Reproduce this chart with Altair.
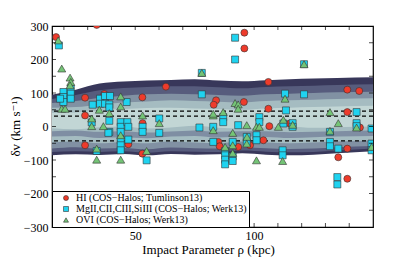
import altair as alt
import pandas as pd

FONT = "Liberation Serif, DejaVu Serif, serif"

# ---- data ----
hi_x = [16.7, 33.8, 28.9, 37.0, 28.9, 28.9, 47.1, 53.0, 62.9, 84.0, 83.0, 53.1, 53.0,
        95.9, 95.9, 106.0, 95.7, 106.0, 106.4, 115.0, 103.9, 85.0, 85.5, 93.3, 98.3,
        139.2, 144.2, 139.2, 144.5, 139.2, 135.4, 139.2]
hi_v = [267, 303, 86, 97, 33, -56, -53, 87, 119, 78, 65, 10, -81,
        280, 233, 133, 73, 53, 1, 9, -41, -46, -59, -61, -56,
        110, 106, 43, -3, -66, -92, -156]

metal_x = [17.9, 19.8, 19.8, 19.8, 18.4, 22.9, 22.9, 22.9,
           35.2, 37.3, 39.4, 35.2, 32.1, 37.3, 39.1, 39.1,
           31.7, 39.1, 39.1, 43.9, 43.9, 43.9, 46.7, 47.1, 47.1, 43.9, 43.9, 43.9,
           33.8, 38.7, 46.4,
           60.1, 53.1, 53.1, 60.1, 77.0, 78.0, 78.0, 82.8, 54.8,
           92.0, 92.0, 87.0, 87.0, 82.8, 93.3, 102.2, 102.2, 101.0, 101.0, 96.9, 96.9, 91.0,
           87.8, 87.8, 87.8, 87.8, 91.0, 91.0,
           113.0, 113.4, 112.3, 112.0, 112.0, 121.0, 121.0,
           116.2, 116.2, 131.9, 131.9, 131.9, 135.4, 143.1, 143.1, 143.1,
           149.4, 149.4, 149.4, 135.0, 135.0]
metal_v = [242, 103, 88, 73, 83, 113, 98, 83,
           83, 91, 91, 68, 65, 68, 66, 57,
           12, 17, -16, 13, -1, -16, 13, -1, -39, -41, -56, -71,
           -73, -19, 73,
           24, -1, -16, -19, -3, 96, 160, -46, -101,
           265, 200, 28, 13, -1, 4, 28, 13, -26, -41, -31, -49, -46,
           -73, -86, -99, -113, -89, -103,
           98, 48, 9, -71, -86, 186, 96,
           10, -1, -16, -46, -59, -66, 43, 10, 1,
           -6, -51, -71, -151, -173]

ovi_x = [17.6, 19.1, 22.6, 22.9, 22.6, 19.1, 20.5,
         34.9, 39.1, 43.9, 43.9, 31.7, 31.7, 36.6, 43.9, 33.8, 33.8, 43.9,
         53.1, 60.1, 82.8, 82.8, 54.8, 78.0, 121.0,
         92.0, 93.3, 93.3, 87.0, 82.8, 113.0, 96.9, 101.0, 102.2, 110.2, 112.3,
         91.0, 97.0, 87.8, 91.0, 91.0, 96.9, 101.0, 112.0,
         131.9, 135.4, 143.1, 116.2, 131.9, 149.4]
ovi_v = [257, 173, 146, 133, 123, 53, 53,
         50, 40, 90, 60, 24, 1, 1, -26, -66, -99, -99,
         33, 10, 33, -11, -73, 160, 186,
         70, 66, 53, 43, 38, 83, 4, -1, -1, -1, 20,
         -19, -31, -61, -56, -79, -51, -101, -103,
         43, 10, -3, 5, -13, -61]

species = ["HI (COS\u2212Halos; Tumlinson13)",
           "MgII,CII,CIII,SiIII (COS\u2212Halos; Werk13)",
           "OVI (COS\u2212Halos; Werk13)"]

band_x = [15, 25, 35, 45, 55, 65, 75, 85, 95, 105, 115, 125, 135, 150]
l0_hi = [95, 110, 128, 134, 137, 139, 141, 137, 135, 138, 141, 143, 145, 147]
l0_lo = [-86, -83, -85, -82, -86, -82, -84, -83, -80, -84, -86, -84, -80, -74]
l1_hi = [82, 94, 108, 115, 118, 120, 120, 117, 114, 118, 120, 122, 124, 126]
l1_lo = [-76, -74, -76, -74, -78, -74, -75, -76, -72, -75, -77, -76, -72, -66]
l2_hi = [70, 76, 86, 92, 96, 98, 96, 94, 92, 96, 98, 100, 102, 104]
l2_lo = [-66, -62, -66, -64, -68, -63, -65, -66, -62, -65, -67, -66, -62, -58]
l3_hi = [56, 58, 66, 72, 75, 78, 76, 74, 72, 76, 78, 80, 82, 84]
l3_lo = [-48, -45, -50, -46, -50, -45, -48, -50, -45, -48, -50, -48, -45, -42]
l4_hi = [40, 42, 48, 52, 55, 56, 54, 52, 50, 54, 56, 58, 60, 62]
l4_lo = [-5, -8, -2, 0, -6, -3, 2, -4, -6, -2, 0, -4, -2, 0]
s_hi = [-14, -12, -16, -14, -18, -15, -12, -16, -14, -14, -17, -16, -14, -12]
s_lo = [-30, -28, -34, -32, -35, -30, -28, -33, -30, -31, -34, -32, -30, -28]

band_levels = [(l0_hi, l0_lo, "#38375a"), (l1_hi, l1_lo, "#575c7d"),
               (l2_hi, l2_lo, "#8191a3"), (l3_hi, l3_lo, "#a5bcc1"),
               (l4_hi, l4_lo, "#c2d6d5"), (s_hi, s_lo, "#7f8ea3")]

dash_v = [46, 31, -43]
x_ticks = [20, 30, 40, 50, 60, 70, 80, 90, 100, 110, 120, 130, 140]
y_ticks = [-250, -200, -150, -100, -50, 0, 50, 100, 150, 200, 250]
x_labels = [50, 100]
y_labels = [-300, -200, -100, 0, 100, 200, 300]

# ---- build ----
xs = alt.Scale(domain=[15, 150], nice=False, zero=False)
ys = alt.Scale(domain=[-300, 300], nice=False, zero=False)
X_AX = alt.Axis(values=x_labels, title="Impact Parameter \u03c1 (kpc)", grid=False, ticks=False,
                domain=False, labelFont=FONT, labelFontSize=12, labelPadding=3, labelFlush=False,
                labelColor="black", titleFont=FONT, titleFontSize=13, titleFontWeight="normal",
                titleColor="black", titleX=156, titleY=26, titleBaseline="alphabetic")
Y_AX = alt.Axis(values=y_labels, title="\u03b4v (km s\u207b\u00b9)", grid=False, ticks=False,
                domain=False, labelFont=FONT, labelFontSize=12, labelPadding=4, labelFlush=False,
                labelColor="black", titleFont=FONT, titleFontSize=13, titleFontWeight="normal",
                titleColor="black", titleX=-37, titleY=100, titleAngle=270,
                titleAlign="center", titleBaseline="middle")

layers = []
for hi, lo, col in band_levels:
    df = pd.DataFrame({"x": band_x, "hi": hi, "lo": lo})
    layers.append(alt.Chart(df).mark_area(color=col, interpolate="monotone", clip=True).encode(
        x=alt.X("x:Q", scale=xs, axis=X_AX),
        y=alt.Y("hi:Q", scale=ys, axis=Y_AX),
        y2="lo:Q"))

dash = alt.Chart(pd.DataFrame({"v": dash_v})).mark_rule(
    color="black", strokeDash=[4, 3], strokeWidth=1.4).encode(y=alt.Y("v:Q", scale=ys, axis=Y_AX))
layers.append(dash)

pts = pd.DataFrame({
    "x": hi_x + metal_x + ovi_x,
    "v": hi_v + metal_v + ovi_v,
    "s": [species[0]] * len(hi_x) + [species[1]] * len(metal_x) + [species[2]] * len(ovi_x),
    "sz": [49] * len(hi_x) + [49] * len(metal_x) + [64] * len(ovi_x),
})
legend = alt.Legend(title=None, orient="bottom-left", offset=0, fillColor="white",
                    strokeColor="black", padding=2, labelFont=FONT, labelFontSize=10,
                    labelColor="black", symbolSize=25, rowPadding=1, labelOffset=5,
                    symbolStrokeColor="#333333", symbolStrokeWidth=0.6, labelLimit=400,
                    symbolOffset=7, cornerRadius=0)
points = alt.Chart(pts).mark_point(filled=True, opacity=1, stroke="#333333",
                                   strokeWidth=0.6, clip=True).encode(
    x=alt.X("x:Q", scale=xs, axis=X_AX),
    y=alt.Y("v:Q", scale=ys, axis=Y_AX),
    color=alt.Color("s:N", scale=alt.Scale(domain=species,
                                           range=["#ee3b2b", "#1fd3f0", "#74c476"]), legend=legend),
    shape=alt.Shape("s:N", scale=alt.Scale(domain=species,
                                           range=["circle", "square", "triangle-up"]), legend=legend),
    size=alt.Size("sz:Q", scale=None, legend=None),
)
layers.append(points)

xt = pd.DataFrame({"t": x_ticks})
yt = pd.DataFrame({"t": y_ticks})
for pos in [0, 201]:
    layers.append(alt.Chart(xt).mark_tick(color="black", thickness=1, size=8, clip=True).encode(
        x=alt.X("t:Q", scale=xs, axis=X_AX), y=alt.value(pos)))
for pos in [0, 321]:
    layers.append(alt.Chart(yt).mark_tick(color="black", thickness=1, size=8, clip=True,
                                          orient="horizontal").encode(
        y=alt.Y("t:Q", scale=ys, axis=Y_AX), x=alt.value(pos)))

chart = alt.layer(*layers).properties(
    width=321, height=201, background="white",
    padding={"left": 44, "top": 18, "right": 34, "bottom": 33},
    autosize=alt.AutoSizeParams(type="none"),
).configure(font=FONT).configure_view(stroke="black", strokeWidth=1.2
).configure_axis(labelFont=FONT, titleFont=FONT).configure_legend(labelFont=FONT)

chart.save("out.html", embed_options={"renderer": "svg", "actions": False})
